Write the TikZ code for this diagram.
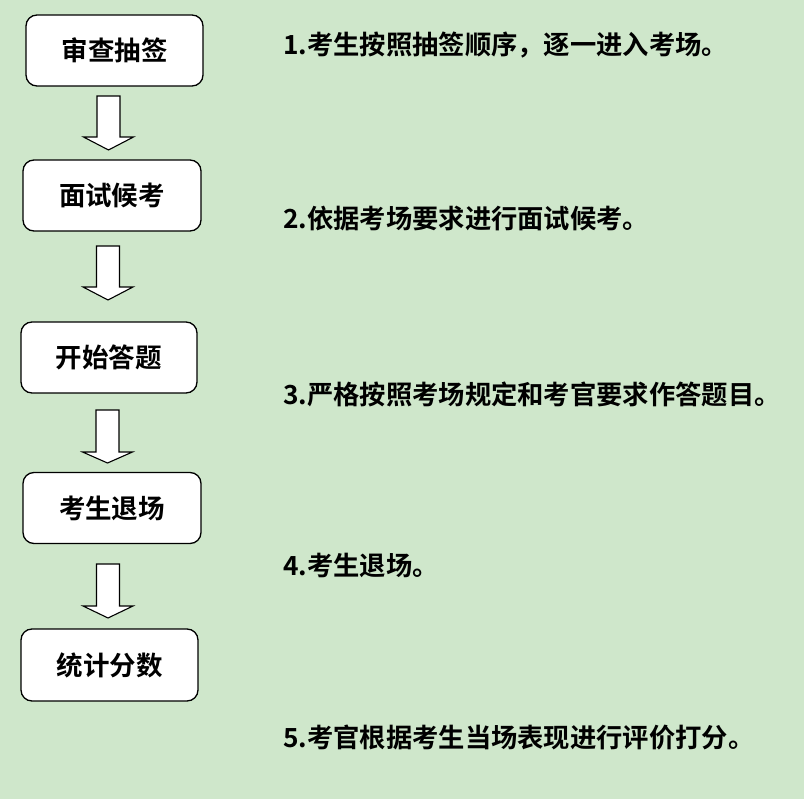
\documentclass[tikz,border=0pt]{standalone}
\usepackage{fontspec}
\setmainfont{Noto Sans CJK SC}[BoldFont={Noto Sans CJK SC Bold}]
\definecolor{bg}{RGB}{207,231,203}
\begin{document}
\begin{tikzpicture}[x=1pt,y=-1pt,
  stepbox/.style={draw=black,line width=1.3pt,fill=white,rounded corners=11pt,
    inner sep=0pt,font=\fontsize{26.5}{30}\selectfont\bfseries},
  desc/.style={anchor=west,inner sep=0pt,font=\fontsize{26.3}{30}\selectfont\bfseries},
  barrow/.style={draw=black,line width=1.1pt,fill=white,line join=miter}]
\fill[bg] (0,0) rectangle (804,799);
\useasboundingbox (0,0) rectangle (804,799);
\node[stepbox,minimum width=177pt,minimum height=71pt] (b1) at (114.5,50.5) {审查抽签};
\node[stepbox,minimum width=178pt,minimum height=71pt] (b2) at (112,195.5) {面试候考};
\node[stepbox,minimum width=176pt,minimum height=71pt] (b3) at (109,357.5) {开始答题};
\node[stepbox,minimum width=178pt,minimum height=71pt] (b4) at (112,508) {考生退场};
\node[stepbox,minimum width=177pt,minimum height=72pt] (b5) at (109.5,665) {统计分数};
% block arrows
\newcommand{\blockarr}[4]{% xc, ytop, ybase, ytip
  \draw[barrow] (#1-11.5,#2) -- (#1+11.5,#2) -- (#1+11.5,#3) -- (#1+25,#3)
    -- (#1,#4) -- (#1-25,#3) -- (#1-11.5,#3) -- cycle;}
\blockarr{108.5}{96}{137}{150}
\blockarr{108}{246}{287}{300}
\blockarr{107.5}{410}{452}{463}
\blockarr{108}{564}{606}{618}
\node[desc] (t1) at (283,45) {1.考生按照抽签顺序，逐一进入考场。};
\node[desc] (t2) at (283,219) {2.依据考场要求进行面试候考。};
\node[desc] (t3) at (283,394) {3.严格按照考场规定和考官要求作答题目。};
\node[desc] (t4) at (283,565) {4.考生退场。};
\node[desc] (t5) at (283,738) {5.考官根据考生当场表现进行评价打分。};
\end{tikzpicture}
\end{document}
